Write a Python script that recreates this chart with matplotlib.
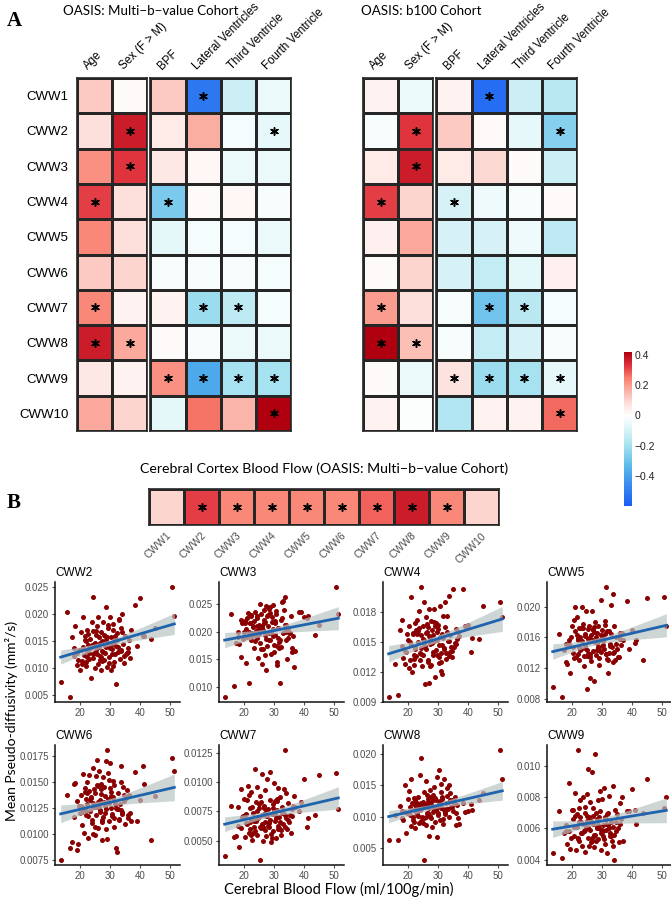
import numpy as np
import matplotlib
matplotlib.use("Agg")
import matplotlib.pyplot as plt
from matplotlib.colors import LinearSegmentedColormap, Normalize
from matplotlib.cm import ScalarMappable

# ---- panel A data ----
rows = ["CWW1", "CWW2", "CWW3", "CWW4", "CWW5", "CWW6", "CWW7", "CWW8", "CWW9", "CWW10"]
demo_cols = ["Age", "Sex (F > M)"]
vol_cols = ["BPF", "Lateral Ventricles", "Third Ventricle", "Fourth Ventricle"]

multi_vals = [
    [0.12, 0.01, 0.12, -0.52, -0.12, -0.05],
    [0.08, 0.37, 0.05, 0.17, -0.03, -0.06],
    [0.22, 0.33, 0.06, 0.02, -0.05, -0.05],
    [0.32, 0.08, -0.28, 0.01, 0.02, -0.02],
    [0.23, 0.08, -0.07, -0.03, -0.03, -0.05],
    [0.12, 0.10, -0.02, -0.02, -0.02, -0.03],
    [0.23, 0.03, 0.03, -0.22, -0.15, -0.03],
    [0.37, 0.18, 0.01, -0.02, -0.05, -0.05],
    [0.06, 0.03, 0.22, -0.38, -0.20, -0.20],
    [0.18, 0.10, -0.07, 0.26, 0.16, 0.42],
]
b100_vals = [
    [0.03, -0.05, 0.03, -0.55, -0.12, -0.16],
    [-0.02, 0.33, 0.12, 0.01, -0.06, -0.26],
    [0.05, 0.37, 0.05, 0.09, 0.01, -0.12],
    [0.32, 0.10, -0.10, -0.04, -0.02, 0.01],
    [0.04, 0.18, -0.10, -0.10, -0.04, -0.15],
    [0.01, 0.10, -0.10, -0.14, -0.07, 0.04],
    [0.20, 0.08, -0.02, -0.30, -0.16, -0.03],
    [0.42, 0.14, -0.02, -0.14, -0.10, -0.02],
    [0.01, -0.05, 0.07, -0.22, -0.20, -0.06],
    [0.03, -0.01, -0.18, 0.03, 0.03, 0.27],
]
# significance (same pattern in both cohorts)
sig_a = [
    [0, 0, 0, 1, 0, 0],
    [0, 1, 0, 0, 0, 1],
    [0, 1, 0, 0, 0, 0],
    [1, 0, 1, 0, 0, 0],
    [0, 0, 0, 0, 0, 0],
    [0, 0, 0, 0, 0, 0],
    [1, 0, 0, 1, 1, 0],
    [1, 1, 0, 0, 0, 0],
    [0, 0, 1, 1, 1, 1],
    [0, 0, 0, 0, 0, 1],
]

# ---- panel B data ----
cbf_vals = [0.10, 0.32, 0.23, 0.23, 0.23, 0.23, 0.28, 0.37, 0.23, 0.10]
cbf_sig = [0, 1, 1, 1, 1, 1, 1, 1, 1, 0]

cbf = [
    13.5, 15.5, 16.5, 50.5, 51.3, 43.5, 45.0, 40.0, 38.2, 40.8,
    41.2, 37.0, 36.5, 39.0, 17.2, 17.8, 18.3, 18.9, 19.4, 19.8,
    20.1, 20.5, 20.8, 21.0, 21.3, 21.6, 21.9, 22.2, 22.4, 22.7,
    23.0, 23.2, 23.5, 23.8, 24.1, 24.3, 24.6, 24.9, 25.1, 25.3,
    25.6, 25.8, 26.0, 26.3, 26.5, 26.8, 27.0, 27.2, 27.5, 27.7,
    28.0, 28.2, 28.5, 28.7, 29.0, 29.2, 29.5, 29.7, 30.0, 30.2,
    30.4, 30.7, 30.9, 31.2, 31.4, 31.7, 32.0, 32.3, 32.5, 32.8,
    33.1, 33.4, 33.7, 34.0, 34.3, 34.7, 35.0, 35.4, 35.8, 36.2,
    19.0, 21.5, 22.0, 23.7, 24.4, 25.5, 26.2, 27.3, 28.4, 29.4,
    30.5, 31.0, 32.2, 33.0, 34.5, 20.3, 22.9, 25.0, 27.8, 29.9,
    31.8, 18.0, 24.8, 26.7, 28.9, 30.8, 33.5, 36.0, 23.3, 26.9,
    20.6, 21.8, 22.6, 24.2, 25.9, 27.1, 28.6, 30.1, 31.5, 33.9,
    19.6, 22.1, 23.9, 25.4, 26.6, 28.1, 29.6, 31.1, 32.7, 35.2,
]

pd_cww2 = [
    0.0075, 0.0205, 0.0048, 0.0250, 0.0197, 0.0155, 0.0175, 0.0230, 0.0217, 0.0160,
    0.0160, 0.0172, 0.0120, 0.0142, 0.0158, 0.0137, 0.0179, 0.0106, 0.0115, 0.0097,
    0.0167, 0.0108, 0.0140, 0.0195, 0.0125, 0.0152, 0.0112, 0.0132, 0.0171, 0.0143,
    0.0128, 0.0155, 0.0083, 0.0186, 0.0233, 0.0119, 0.0146, 0.0101, 0.0162, 0.0135,
    0.0178, 0.0109, 0.0195, 0.0140, 0.0124, 0.0167, 0.0098, 0.0150, 0.0186, 0.0131,
    0.0115, 0.0160, 0.0213, 0.0139, 0.0102, 0.0175, 0.0145, 0.0121, 0.0195, 0.0098,
    0.0158, 0.0136, 0.0183, 0.0112, 0.0148, 0.0126, 0.0072, 0.0165, 0.0140, 0.0190,
    0.0118, 0.0175, 0.0132, 0.0200, 0.0145, 0.0111, 0.0160, 0.0128, 0.0137, 0.0153,
    0.0128, 0.0160, 0.0104, 0.0140, 0.0170, 0.0127, 0.0158, 0.0113, 0.0142, 0.0180,
    0.0127, 0.0105, 0.0153, 0.0192, 0.0123, 0.0135, 0.0117, 0.0148, 0.0162, 0.0138,
    0.0141, 0.0124, 0.0131, 0.0147, 0.0158, 0.0172, 0.0135, 0.0131, 0.0138, 0.0121,
    0.0114, 0.0150, 0.0163, 0.0126, 0.0142, 0.0133, 0.0152, 0.0143, 0.0160, 0.0167,
    0.0134, 0.0121, 0.0144, 0.0169, 0.0115, 0.0128, 0.0110, 0.0151, 0.0130, 0.0126,
]
pd_cww3 = [
    0.0083, 0.0232, 0.0102, 0.0280, 0.0232, 0.0195, 0.0213, 0.0226, 0.0235, 0.0224,
    0.0229, 0.0165, 0.0137, 0.0235, 0.0179, 0.0200, 0.0178, 0.0155, 0.0215, 0.0200,
    0.0220, 0.0143, 0.0225, 0.0190, 0.0233, 0.0107, 0.0215, 0.0185, 0.0228, 0.0197,
    0.0210, 0.0170, 0.0236, 0.0202, 0.0188, 0.0224, 0.0153, 0.0212, 0.0180, 0.0250,
    0.0232, 0.0142, 0.0207, 0.0168, 0.0240, 0.0194, 0.0218, 0.0131, 0.0229, 0.0174,
    0.0210, 0.0198, 0.0245, 0.0185, 0.0160, 0.0226, 0.0205, 0.0249, 0.0176, 0.0215,
    0.0195, 0.0232, 0.0145, 0.0206, 0.0188, 0.0170, 0.0108, 0.0222, 0.0253, 0.0198,
    0.0240, 0.0213, 0.0262, 0.0185, 0.0150, 0.0205, 0.0197, 0.0228, 0.0164, 0.0192,
    0.0222, 0.0199, 0.0230, 0.0183, 0.0211, 0.0169, 0.0203, 0.0246, 0.0185, 0.0217,
    0.0237, 0.0140, 0.0172, 0.0256, 0.0189, 0.0216, 0.0209, 0.0196, 0.0230, 0.0163,
    0.0186, 0.0191, 0.0205, 0.0221, 0.0200, 0.0175, 0.0200, 0.0170, 0.0219, 0.0158,
    0.0205, 0.0216, 0.0193, 0.0228, 0.0211, 0.0187, 0.0234, 0.0219, 0.0182, 0.0212,
    0.0187, 0.0231, 0.0196, 0.0207, 0.0215, 0.0241, 0.0192, 0.0206, 0.0225, 0.0197,
]
pd_cww4 = [
    0.0095, 0.0128, 0.0097, 0.0190, 0.0175, 0.0153, 0.0186, 0.0167, 0.0203, 0.0140,
    0.0154, 0.0156, 0.0160, 0.0166, 0.0162, 0.0172, 0.0134, 0.0128, 0.0140, 0.0152,
    0.0166, 0.0132, 0.0147, 0.0195, 0.0120, 0.0158, 0.0127, 0.0169, 0.0145, 0.0136,
    0.0172, 0.0150, 0.0181, 0.0139, 0.0205, 0.0157, 0.0126, 0.0166, 0.0148, 0.0190,
    0.0108, 0.0175, 0.0143, 0.0160, 0.0132, 0.0183, 0.0109, 0.0154, 0.0171, 0.0127,
    0.0162, 0.0140, 0.0183, 0.0151, 0.0115, 0.0169, 0.0137, 0.0152, 0.0163, 0.0129,
    0.0147, 0.0186, 0.0121, 0.0158, 0.0118, 0.0176, 0.0143, 0.0190, 0.0133, 0.0160,
    0.0151, 0.0196, 0.0136, 0.0157, 0.0145, 0.0135, 0.0203, 0.0149, 0.0163, 0.0153,
    0.0141, 0.0159, 0.0133, 0.0164, 0.0138, 0.0146, 0.0168, 0.0126, 0.0157, 0.0142,
    0.0155, 0.0130, 0.0165, 0.0176, 0.0141, 0.0124, 0.0158, 0.0137, 0.0149, 0.0167,
    0.0144, 0.0146, 0.0153, 0.0130, 0.0166, 0.0139, 0.0151, 0.0148, 0.0161, 0.0156,
    0.0150, 0.0137, 0.0162, 0.0144, 0.0159, 0.0148, 0.0170, 0.0135, 0.0154, 0.0140,
    0.0158, 0.0143, 0.0132, 0.0152, 0.0165, 0.0137, 0.0160, 0.0147, 0.0139, 0.0145,
]
pd_cww5 = [
    0.0095, 0.0164, 0.0083, 0.0213, 0.0175, 0.0130, 0.0211, 0.0170, 0.0208, 0.0153,
    0.0156, 0.0156, 0.0166, 0.0145, 0.0143, 0.0128, 0.0125, 0.0157, 0.0114, 0.0175,
    0.0140, 0.0182, 0.0168, 0.0200, 0.0135, 0.0186, 0.0156, 0.0172, 0.0130, 0.0161,
    0.0145, 0.0200, 0.0178, 0.0123, 0.0165, 0.0150, 0.0195, 0.0093, 0.0158, 0.0138,
    0.0175, 0.0134, 0.0107, 0.0163, 0.0194, 0.0142, 0.0171, 0.0103, 0.0154, 0.0180,
    0.0137, 0.0166, 0.0148, 0.0175, 0.0124, 0.0156, 0.0209, 0.0141, 0.0170, 0.0150,
    0.0162, 0.0145, 0.0181, 0.0139, 0.0225, 0.0132, 0.0113, 0.0168, 0.0149, 0.0202,
    0.0147, 0.0217, 0.0128, 0.0175, 0.0130, 0.0160, 0.0145, 0.0135, 0.0166, 0.0150,
    0.0152, 0.0163, 0.0138, 0.0172, 0.0146, 0.0159, 0.0129, 0.0167, 0.0153, 0.0142,
    0.0158, 0.0176, 0.0140, 0.0164, 0.0152, 0.0147, 0.0172, 0.0136, 0.0161, 0.0149,
    0.0130, 0.0151, 0.0144, 0.0157, 0.0133, 0.0165, 0.0140, 0.0158, 0.0155, 0.0169,
    0.0133, 0.0159, 0.0143, 0.0162, 0.0138, 0.0174, 0.0146, 0.0155, 0.0168, 0.0141,
    0.0160, 0.0148, 0.0136, 0.0171, 0.0157, 0.0144, 0.0163, 0.0139, 0.0152, 0.0134,
]
pd_cww6 = [
    0.0075, 0.0137, 0.0086, 0.0173, 0.0160, 0.0094, 0.0136, 0.0132, 0.0159, 0.0165,
    0.0148, 0.0112, 0.0120, 0.0112, 0.0092, 0.0148, 0.0149, 0.0084, 0.0090, 0.0120,
    0.0137, 0.0108, 0.0125, 0.0157, 0.0101, 0.0140, 0.0118, 0.0150, 0.0128, 0.0096,
    0.0156, 0.0122, 0.0134, 0.0110, 0.0163, 0.0126, 0.0143, 0.0099, 0.0118, 0.0155,
    0.0171, 0.0130, 0.0105, 0.0160, 0.0123, 0.0148, 0.0138, 0.0094, 0.0154, 0.0116,
    0.0145, 0.0127, 0.0170, 0.0104, 0.0180, 0.0133, 0.0112, 0.0152, 0.0168, 0.0125,
    0.0140, 0.0117, 0.0135, 0.0147, 0.0106, 0.0129, 0.0086, 0.0082, 0.0139, 0.0113,
    0.0128, 0.0165, 0.0150, 0.0121, 0.0145, 0.0131, 0.0109, 0.0142, 0.0115, 0.0137,
    0.0131, 0.0144, 0.0122, 0.0135, 0.0100, 0.0147, 0.0126, 0.0113, 0.0136, 0.0158,
    0.0119, 0.0151, 0.0124, 0.0114, 0.0137, 0.0127, 0.0141, 0.0106, 0.0130, 0.0144,
    0.0125, 0.0116, 0.0139, 0.0121, 0.0095, 0.0134, 0.0123, 0.0118, 0.0132, 0.0143,
    0.0121, 0.0133, 0.0117, 0.0129, 0.0146, 0.0111, 0.0124, 0.0136, 0.0128, 0.0119,
    0.0127, 0.0139, 0.0113, 0.0126, 0.0132, 0.0120, 0.0129, 0.0115, 0.0124, 0.0134,
]
pd_cww7 = [
    0.0037, 0.0080, 0.0053, 0.0108, 0.0077, 0.0072, 0.0106, 0.0103, 0.0075, 0.0062,
    0.0069, 0.0079, 0.0088, 0.0083, 0.0054, 0.0079, 0.0045, 0.0094, 0.0070, 0.0086,
    0.0053, 0.0073, 0.0085, 0.0064, 0.0097, 0.0057, 0.0078, 0.0068, 0.0092, 0.0051,
    0.0074, 0.0062, 0.0111, 0.0083, 0.0055, 0.0096, 0.0069, 0.0078, 0.0034, 0.0088,
    0.0061, 0.0107, 0.0072, 0.0050, 0.0080, 0.0066, 0.0093, 0.0054, 0.0103, 0.0071,
    0.0077, 0.0062, 0.0109, 0.0085, 0.0049, 0.0073, 0.0081, 0.0058, 0.0099, 0.0067,
    0.0084, 0.0052, 0.0076, 0.0095, 0.0063, 0.0070, 0.0087, 0.0055, 0.0079, 0.0064,
    0.0094, 0.0127, 0.0072, 0.0091, 0.0060, 0.0082, 0.0066, 0.0057, 0.0077, 0.0080,
    0.0061, 0.0089, 0.0066, 0.0058, 0.0075, 0.0083, 0.0062, 0.0071, 0.0065, 0.0052,
    0.0069, 0.0086, 0.0059, 0.0074, 0.0068, 0.0072, 0.0057, 0.0081, 0.0063, 0.0075,
    0.0066, 0.0063, 0.0070, 0.0078, 0.0056, 0.0084, 0.0062, 0.0071, 0.0067, 0.0059,
    0.0065, 0.0060, 0.0079, 0.0070, 0.0064, 0.0076, 0.0068, 0.0073, 0.0061, 0.0069,
    0.0071, 0.0055, 0.0067, 0.0062, 0.0073, 0.0066, 0.0078, 0.0060, 0.0074, 0.0072,
]
pd_cww8 = [
    0.0063, 0.0103, 0.0062, 0.0206, 0.0161, 0.0127, 0.0138, 0.0109, 0.0121, 0.0120,
    0.0110, 0.0088, 0.0098, 0.0108, 0.0117, 0.0109, 0.0095, 0.0151, 0.0074, 0.0128,
    0.0141, 0.0102, 0.0085, 0.0160, 0.0121, 0.0094, 0.0110, 0.0126, 0.0082, 0.0115,
    0.0104, 0.0132, 0.0089, 0.0167, 0.0194, 0.0112, 0.0099, 0.0124, 0.0031, 0.0140,
    0.0118, 0.0087, 0.0157, 0.0106, 0.0128, 0.0069, 0.0113, 0.0142, 0.0097, 0.0123,
    0.0083, 0.0135, 0.0110, 0.0148, 0.0092, 0.0126, 0.0067, 0.0164, 0.0105, 0.0175,
    0.0120, 0.0095, 0.0152, 0.0113, 0.0131, 0.0088, 0.0160, 0.0108, 0.0122, 0.0146,
    0.0112, 0.0150, 0.0099, 0.0137, 0.0116, 0.0126, 0.0109, 0.0132, 0.0087, 0.0119,
    0.0107, 0.0099, 0.0130, 0.0118, 0.0093, 0.0116, 0.0135, 0.0101, 0.0127, 0.0110,
    0.0125, 0.0139, 0.0104, 0.0133, 0.0115, 0.0108, 0.0121, 0.0090, 0.0117, 0.0103,
    0.0111, 0.0097, 0.0119, 0.0105, 0.0129, 0.0114, 0.0124, 0.0106, 0.0101, 0.0120,
    0.0116, 0.0092, 0.0108, 0.0122, 0.0100, 0.0131, 0.0113, 0.0119, 0.0096, 0.0127,
    0.0106, 0.0118, 0.0111, 0.0098, 0.0124, 0.0107, 0.0115, 0.0128, 0.0112, 0.0121,
]
pd_cww9 = [
    0.0044, 0.0071, 0.0041, 0.0073, 0.0080, 0.0070, 0.0092, 0.0085, 0.0071, 0.0072,
    0.0063, 0.0052, 0.0080, 0.0071, 0.0057, 0.0062, 0.0050, 0.0089, 0.0047, 0.0072,
    0.0066, 0.0055, 0.0068, 0.0083, 0.0046, 0.0061, 0.0110, 0.0073, 0.0052, 0.0078,
    0.0064, 0.0049, 0.0080, 0.0058, 0.0070, 0.0045, 0.0061, 0.0082, 0.0054, 0.0098,
    0.0067, 0.0059, 0.0077, 0.0051, 0.0096, 0.0063, 0.0073, 0.0048, 0.0108, 0.0056,
    0.0070, 0.0060, 0.0078, 0.0053, 0.0067, 0.0084, 0.0057, 0.0046, 0.0079, 0.0062,
    0.0055, 0.0086, 0.0050, 0.0066, 0.0059, 0.0044, 0.0070, 0.0081, 0.0057, 0.0064,
    0.0052, 0.0087, 0.0061, 0.0040, 0.0072, 0.0058, 0.0069, 0.0051, 0.0076, 0.0066,
    0.0058, 0.0069, 0.0054, 0.0063, 0.0074, 0.0049, 0.0065, 0.0056, 0.0061, 0.0071,
    0.0053, 0.0067, 0.0060, 0.0055, 0.0064, 0.0072, 0.0057, 0.0068, 0.0052, 0.0059,
    0.0062, 0.0058, 0.0065, 0.0054, 0.0060, 0.0066, 0.0049, 0.0063, 0.0057, 0.0068,
    0.0061, 0.0053, 0.0067, 0.0059, 0.0064, 0.0055, 0.0062, 0.0058, 0.0069, 0.0056,
    0.0054, 0.0064, 0.0058, 0.0061, 0.0052, 0.0066, 0.0059, 0.0063, 0.0055, 0.0060,
]

scatter_panels = [
    ("CWW2", pd_cww2, [0.005, 0.010, 0.015, 0.020, 0.025], "{:.3f}"),
    ("CWW3", pd_cww3, [0.010, 0.015, 0.020, 0.025], "{:.3f}"),
    ("CWW4", pd_cww4, [0.009, 0.012, 0.015, 0.018], "{:.3f}"),
    ("CWW5", pd_cww5, [0.008, 0.012, 0.016, 0.020], "{:.3f}"),
    ("CWW6", pd_cww6, [0.0075, 0.0100, 0.0125, 0.0150, 0.0175], "{:.4f}"),
    ("CWW7", pd_cww7, [0.0050, 0.0075, 0.0100, 0.0125], "{:.4f}"),
    ("CWW8", pd_cww8, [0.005, 0.010, 0.015, 0.020], "{:.3f}"),
    ("CWW9", pd_cww9, [0.004, 0.006, 0.008, 0.010], "{:.3f}"),
]

# ---- style ----
W, H = 671, 899
SANS = ["Liberation Sans", "DejaVu Sans"]
HUM = ["Lato", "DejaVu Sans"]
plt.rcParams["font.family"] = SANS

vmin, vmax = -0.6, 0.42
stops = [(-0.6, "#1a5ef5"), (-0.45, "#3d8fee"), (-0.35, "#55b4ea"), (-0.2, "#a6e2ef"),
         (-0.08, "#dff5f8"), (0.0, "#ffffff"), (0.08, "#fde0dc"), (0.18, "#faa99c"),
         (0.25, "#f97d6c"), (0.33, "#e0343f"), (0.42, "#b00010")]
cmap = LinearSegmentedColormap.from_list(
    "rb", [((v - vmin) / (vmax - vmin), c) for v, c in stops])
norm = Normalize(vmin, vmax)
EDGE = "#262626"


def box(left, top, w, h):
    return [left / W, 1 - (top + h) / H, w / W, h / H]


def heat(ax, vals, sig):
    vals = np.asarray(vals, dtype=float)
    sig = np.asarray(sig)
    nr, nc = vals.shape
    ax.pcolormesh(np.arange(nc + 1), np.arange(nr + 1), vals, cmap=cmap, norm=norm,
                  edgecolors=EDGE, linewidth=0.9)
    ys, xs = np.nonzero(sig)
    ax.scatter(xs + 0.5, ys + 0.5, marker=(6, 2, 0), s=30, c="black", linewidths=1.1, zorder=3)
    ax.set_xlim(0, nc)
    ax.set_ylim(nr, 0)
    ax.set_xticks([])
    ax.set_yticks([])
    for sp in ax.spines.values():
        sp.set_linewidth(1.2)
        sp.set_color(EDGE)


def col_labels(ax, labels):
    for i, lab in enumerate(labels):
        ax.text(i + 0.38, -0.16, lab, rotation=45, rotation_mode="anchor", ha="left",
                va="bottom", fontsize=8.3, clip_on=False)


fig = plt.figure(figsize=(W / 100, H / 100), dpi=100)

mv = np.array(multi_vals)
bv = np.array(b100_vals)
sg = np.array(sig_a)
cw, ch, top = 35.2, 35.3, 78
for x0, tx, vals, title in [(77, 63, mv, "OASIS: Multi\u2212b\u2212value Cohort"),
                            (363, 361, bv, "OASIS: b100 Cohort")]:
    a1 = fig.add_axes(box(x0, top, 2 * cw, 10 * ch))
    a2 = fig.add_axes(box(x0 + 2 * cw + 3, top, 4 * cw, 10 * ch))
    heat(a1, vals[:, :2], sg[:, :2])
    heat(a2, vals[:, 2:], sg[:, 2:])
    col_labels(a1, demo_cols)
    col_labels(a2, vol_cols)
    fig.text(tx / W, 1 - 11 / H, title, family=HUM, fontsize=9.6, ha="left", va="center")
    if x0 == 77:
        a1.set_yticks(np.arange(10) + 0.5, labels=rows)
        a1.tick_params(axis="y", length=0, pad=6, labelsize=9.5)

cax = fig.add_axes(box(624, 352, 8, 154))
cb = fig.colorbar(ScalarMappable(norm=norm, cmap=cmap), cax=cax, ticks=[0.4, 0.2, 0, -0.2, -0.4])
cb.outline.set_visible(False)
cb.ax.set_yticklabels(["0.4", "0.2", "0", "\u22120.2", "\u22120.4"])
cax.tick_params(length=0, labelsize=7.5, pad=2, colors="#222222")

fig.text(14 / W, 1 - 21 / H, "A", family=["Liberation Serif"], fontweight="bold", fontsize=15,
         ha="center", va="center")
fig.text(14 / W, 1 - 503 / H, "B", family=["Liberation Serif"], fontweight="bold", fontsize=15,
         ha="center", va="center")

# panel B heatmap
axb = fig.add_axes(box(149, 489, 350, 36))
heat(axb, [cbf_vals], [cbf_sig])
axb.set_xticks(np.arange(10) + 0.5, labels=rows)
axb.tick_params(axis="x", length=0, pad=4, labelsize=7.5, colors="#4d4d4d")
for t in axb.get_xticklabels():
    t.set_rotation(45)
    t.set_ha("right")
    t.set_rotation_mode("anchor")
fig.text(324 / W, 1 - 469 / H, "Cerebral Cortex Blood Flow (OASIS: Multi\u2212b\u2212value Cohort)",
         family=HUM, fontsize=10.2, ha="center", va="center")

# scatter panels
x = np.array(cbf)
lefts = [55, 219, 383, 547]
tops = [582, 745]
for k, (name, yv, yt, fmt) in enumerate(scatter_panels):
    y = np.array(yv)
    ax = fig.add_axes(box(lefts[k % 4], tops[k // 4], 125, 120))
    ax.scatter(x, y, s=13, color="#8b0000", linewidths=0, zorder=2)
    b1, b0 = np.polyfit(x, y, 1)
    xs = np.linspace(x.min(), x.max(), 100)
    fit = b0 + b1 * xs
    resid = y - (b0 + b1 * x)
    n = len(x)
    s = np.sqrt(np.sum(resid ** 2) / (n - 2))
    se = s * np.sqrt(1 / n + (xs - x.mean()) ** 2 / np.sum((x - x.mean()) ** 2))
    ax.fill_between(xs, fit - 1.98 * se, fit + 1.98 * se, color="#b9c4c4", alpha=0.7,
                    linewidth=0, zorder=3)
    ax.plot(xs, fit, color="#1f64ad", linewidth=2, zorder=4)
    ax.set_xticks([20, 30, 40, 50])
    ax.set_yticks(yt, labels=[fmt.format(v) for v in yt])
    ax.tick_params(labelsize=7, colors="#4d4d4d", length=2.5, width=0.8, pad=2)
    for side in ["top", "right"]:
        ax.spines[side].set_visible(False)
    for side in ["left", "bottom"]:
        ax.spines[side].set_linewidth(1.1)
        ax.spines[side].set_color("#111111")
    ax.set_title(name, loc="left", fontsize=8.5, pad=4)

fig.text(12 / W, 1 - 721 / H, "Mean Pseudo-diffusivity (mm\u00b2/s)", family=HUM, fontsize=10,
         rotation=90, ha="center", va="center")
fig.text(339 / W, 1 - 889 / H, "Cerebral Blood Flow (ml/100g/min)", family=HUM, fontsize=10.5,
         ha="center", va="center")

fig.savefig("out.png", dpi=100)
